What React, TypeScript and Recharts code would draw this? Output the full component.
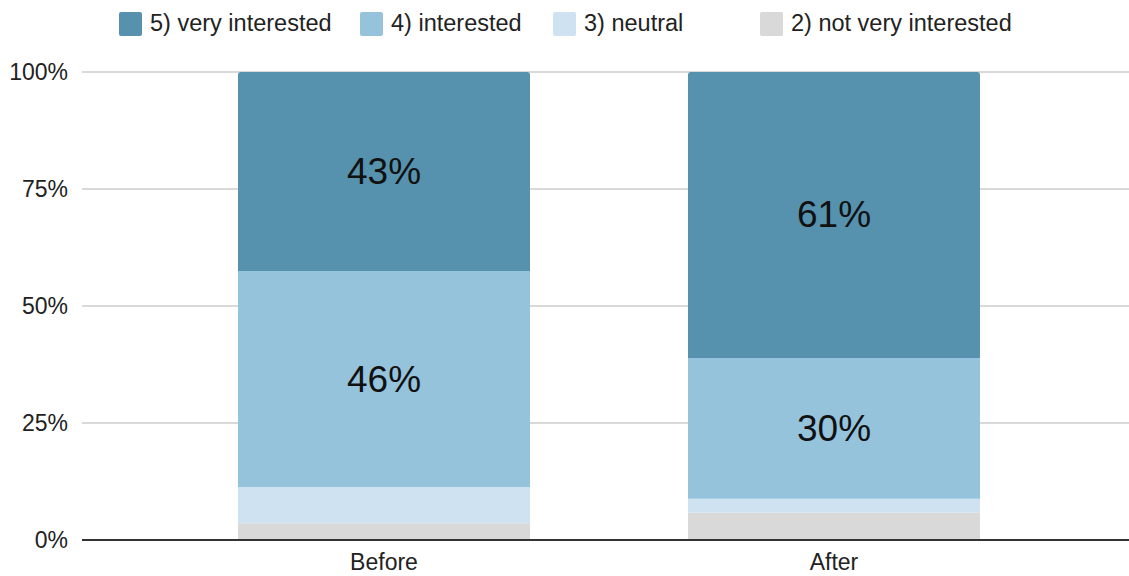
import { BarChart, Bar, XAxis, YAxis, CartesianGrid, LabelList } from 'recharts';

const categories = ['Before', 'After'];
const veryInterested = [42.5, 61.1];
const interested = [46.2, 30.1];
const neutral = [7.7, 3.0];
const notVeryInterested = [3.6, 5.8];
const yTicks = [0, 25, 50, 75, 100];

const seriesInfo = [
  { key: 'veryInterested', name: '5) very interested', color: '#5691ad' },
  { key: 'interested', name: '4) interested', color: '#96c3dc' },
  { key: 'neutral', name: '3) neutral', color: '#cfe2f1' },
  { key: 'notVeryInterested', name: '2) not very interested', color: '#d9d9d9' },
];

const data = categories.map((name, i) => ({
  name,
  veryInterested: veryInterested[i],
  interested: interested[i],
  neutral: neutral[i],
  notVeryInterested: notVeryInterested[i],
}));

const font = '"Liberation Sans", Arial, sans-serif';
const legendLefts = [119, 360, 553, 760];

const PctLabel = (props: any) => {
  const { x, y, width, height, value } = props;
  if (value < 10) return null;
  return (
    <text
      x={x + width / 2}
      y={y + height / 2}
      textAnchor="middle"
      dominantBaseline="central"
      fontSize={37}
      fontFamily={font}
      fill="#111"
    >
      {Math.round(value)}%
    </text>
  );
};

const App = () => {
  return (
    <div style={{ position: 'absolute', left: 0, top: 0, width: 1129, height: 576, background: '#fff' }}>
      {seriesInfo.map((s, i) => (
        <div
          key={s.key}
          style={{
            position: 'absolute',
            left: legendLefts[i],
            top: 10,
            display: 'flex',
            alignItems: 'center',
            fontFamily: font,
            fontSize: 23.5,
            color: '#222',
            whiteSpace: 'nowrap',
          }}
        >
          <div style={{ width: 23, height: 24, borderRadius: 2, background: s.color, marginRight: 8 }} />
          <span>{s.name}</span>
        </div>
      ))}
      <BarChart
        width={1129}
        height={576}
        data={data}
        margin={{ top: 72, right: 0, left: 0, bottom: 0 }}
        style={{ fontFamily: font }}
      >
        <CartesianGrid vertical={false} stroke="#cccccc" strokeWidth={1.5} />
        <YAxis
          width={82}
          domain={[0, 100]}
          ticks={yTicks}
          tickFormatter={(v) => `${v}%`}
          axisLine={false}
          tickLine={false}
          tickSize={0}
          tickMargin={14}
          tick={{ fontSize: 23, fill: '#222' }}
        />
        <XAxis
          dataKey="name"
          height={36}
          padding={{ left: 77, right: 70 }}
          axisLine={{ stroke: '#333', strokeWidth: 2 }}
          tickLine={false}
          tickSize={0}
          tickMargin={14}
          tick={{ fontSize: 23, fill: '#222' }}
        />
        {[...seriesInfo].reverse().map((s) => (
          <Bar
            key={s.key}
            dataKey={s.key}
            name={s.name}
            stackId="a"
            fill={s.color}
            barSize={292}
            radius={s.key === 'veryInterested' ? [3, 3, 0, 0] : 0}
            isAnimationActive={false}
          >
            <LabelList dataKey={s.key} content={PctLabel} />
          </Bar>
        ))}
      </BarChart>
    </div>
  );
};

export default App;
